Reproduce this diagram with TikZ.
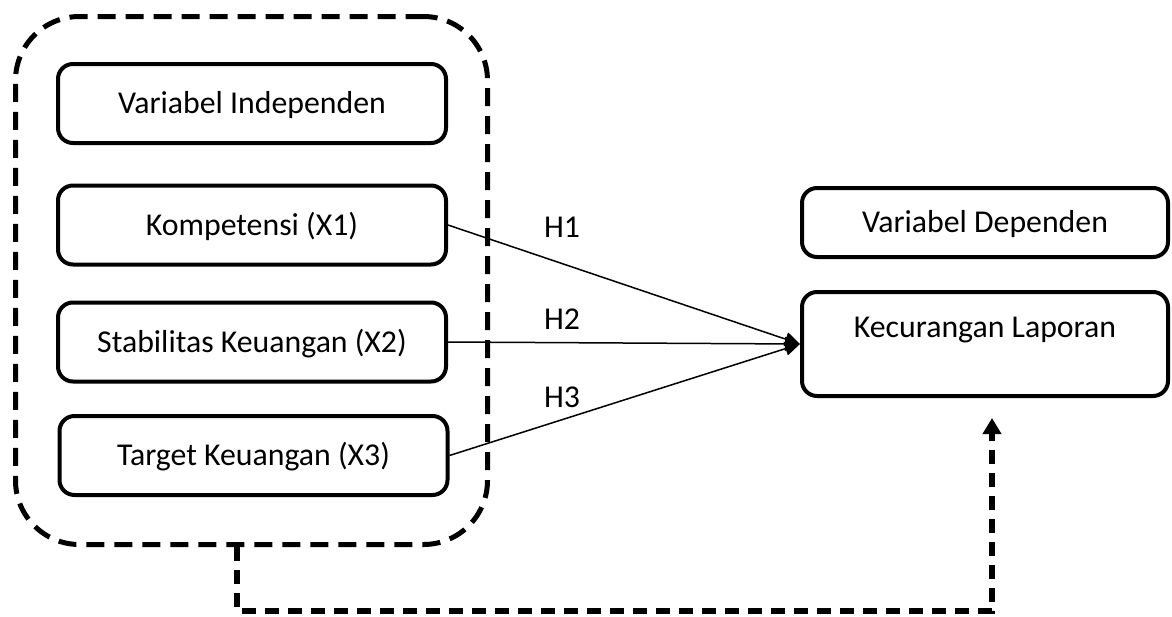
\documentclass[tikz,border=0pt]{standalone}
\usepackage{fontspec}
\setmainfont{Carlito}
\usepackage{tikz}
\usetikzlibrary{arrows.meta}
\tikzset{
  % --- variable boxes --------------------------------------------------------
  varbox/.style={rectangle,draw,line width=2pt,rounded corners=7.5pt,
                 minimum width=194pt,minimum height=39.5pt,inner sep=0pt,
                 text height=10pt,text depth=0pt,
                 font=\fontsize{15.9}{18}\selectfont},
  depbox/.style={varbox,minimum width=183pt,minimum height=34.5pt},
  outbox/.style={depbox,minimum height=52pt,text depth=17pt},
  % dashed frame round the independent variables
  groupbox/.style={rectangle,draw,line width=2.5pt,
                   dash pattern=on 9pt off 5pt,rounded corners=32pt,
                   minimum width=236pt,minimum height=264pt},
  % --- links -----------------------------------------------------------------
  hyp/.style={-{Triangle[length=7.5pt,width=7pt]},line width=0.75pt},
  hlab/.style={font=\fontsize{15.9}{18}\selectfont,inner sep=0pt,
               text height=10pt,text depth=0pt},
  feedback/.style={-{Triangle[length=8pt,width=9pt]},line width=2.6pt,
                   dash pattern=on 7pt off 4.5pt},
}
\begin{document}
\begin{tikzpicture}[x=0.5pt,y=-0.5pt]
  \useasboundingbox (0,0) rectangle (1172,616);

  \node[groupbox] (indep) at (251.5,280.5) {};

  \node[varbox] (vi) at (252,103.5) {Variabel Independen};
  \node[varbox] (x1) at (252,225)   {Kompetensi (X1)};
  \node[varbox] (x2) at (252,342)   {Stabilitas Keuangan (X2)};
  \node[varbox] (x3) at (253.5,455.5) {Target Keuangan (X3)};

  \node[depbox] (vd) at (985,222.5) {Variabel Dependen};
  \node[outbox] (kl) at (985,344)   {Kecurangan Laporan};

  \draw[hyp] (x1.east) -- (kl.west);
  \draw[hyp] (x2.east) -- (kl.west);
  \draw[hyp] (x3.east) -- (kl.west);
  \node[hlab] (h1) at (562,227) {H1};
  \node[hlab] (h2) at (562,319) {H2};
  \node[hlab] (h3) at (562,397) {H3};

  \coordinate (fb) at (237,611);
  \coordinate (fbend) at (992,418);
  \draw[feedback] (indep.south -| fb) -- (fb) -| (fbend);
\end{tikzpicture}
\end{document}
